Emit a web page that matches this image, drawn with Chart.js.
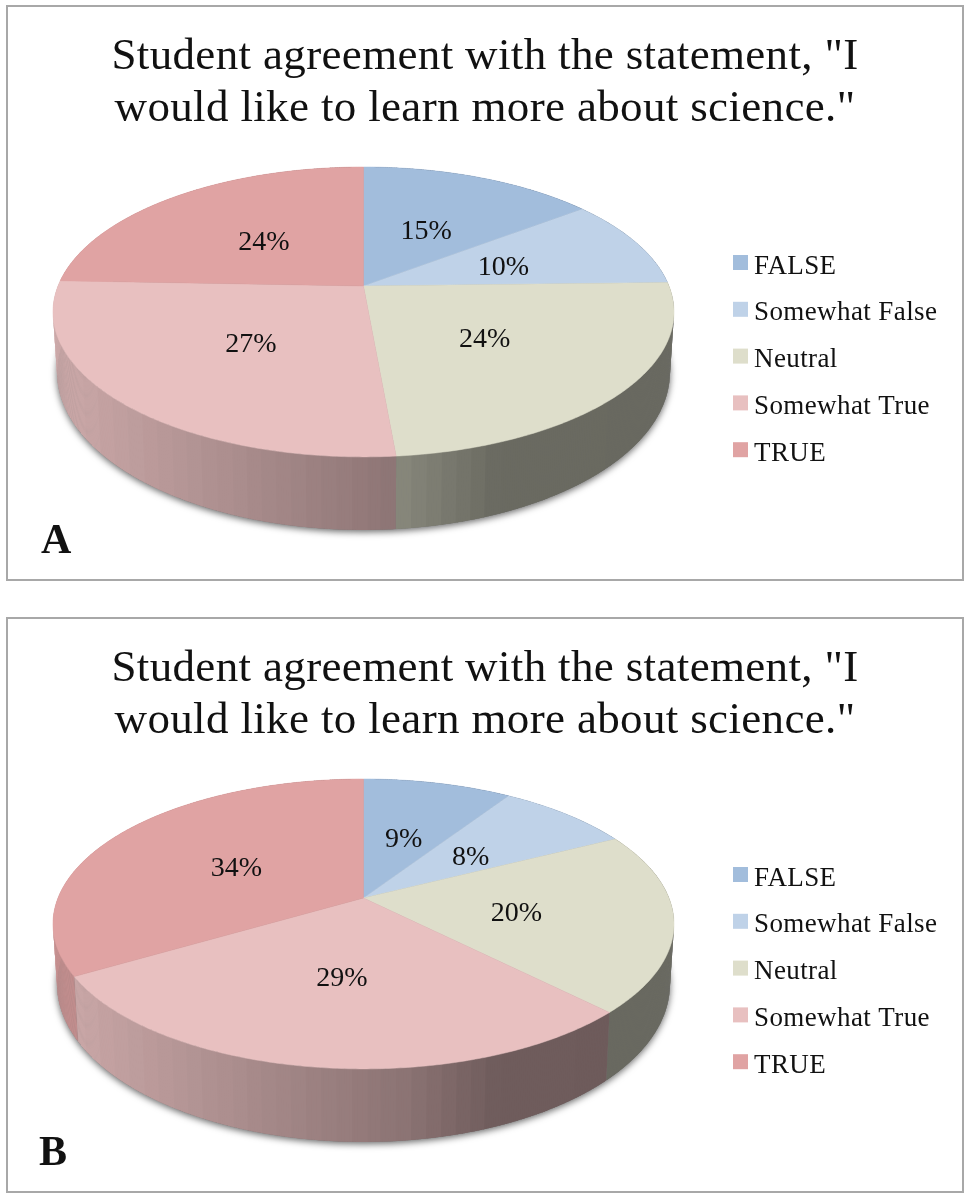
<!DOCTYPE html>
<html>
<head>
<meta charset="utf-8">
<script src="https://cdn.jsdelivr.net/npm/chart.js@4"></script>
<style>
  html, body { margin: 0; background: #fff; }
  .panel { position: absolute; left: 6px; width: 954px; height: 572px; border: 2px solid #a8a8a8; }
  #panelA { top: 5px; }
  #panelB { top: 617px; }
  canvas { display: block; }
</style>
</head>
<body>
<div class="panel" id="panelA"><canvas id="chartA" width="954" height="572"></canvas></div>
<div class="panel" id="panelB"><canvas id="chartB" width="954" height="572"></canvas></div>
<script>
const categories = ['FALSE', 'Somewhat False', 'Neutral', 'Somewhat True', 'TRUE'];
const valuesA = [14.6, 10.0, 24.0, 27.0, 24.4];
const valuesB = [9.2, 8.3, 20.1, 28.9, 33.5];
const colors = ['#a2bddc', '#bfd2e8', '#dedecb', '#e8c0c0', '#e0a3a3'];
const titleLines = ['Student agreement with the statement, "I', 'would like to learn more about science."'];
const FONT = '"Liberation Serif", serif';

// tilted disc: k is the perspective term, so the hub sits above the middle of the ellipse
const disc = { cx: 355.5, cy: 279, a: 305.5, b: 140.3, k: 0.179, midY: 305, bottomMidY: 365, bottomStretch: 1.09, bottomScale: 0.987 };

function project(theta, r) {
  const u = r * Math.sin(theta), v = r * Math.cos(theta);
  const d = 1 + disc.k * v;
  return { x: disc.cx + disc.a * u / d, y: disc.cy - disc.b * v / d };
}

// lower rim of the wall is a slightly narrower, slightly taller ellipse
function projectBottom(theta) {
  const p = project(theta, 1);
  return {
    x: disc.cx + (p.x - disc.cx) * disc.bottomScale,
    y: disc.bottomMidY + (p.y - disc.midY) * disc.bottomStretch
  };
}

// wall gets darker going left to right
function wallShade(x) {
  const stops = [[52, 0.87], [392, 0.6], [482, 0.48], [700, 0.47]];
  if (x <= stops[0][0]) return stops[0][1];
  for (let i = 1; i < stops.length; i++) {
    if (x <= stops[i][0]) {
      const t = (x - stops[i - 1][0]) / (stops[i][0] - stops[i - 1][0]);
      return stops[i - 1][1] + t * (stops[i][1] - stops[i - 1][1]);
    }
  }
  return 0.47;
}

function shaded(hex, s) {
  const n = parseInt(hex.slice(1), 16);
  return 'rgb(' + [(n >> 16) & 255, (n >> 8) & 255, n & 255].map(c => Math.round(c * s)).join(',') + ')';
}

function drawShadow(ctx) {
  ctx.save();
  ctx.shadowColor = 'rgba(0,0,0,0.6)';
  ctx.shadowBlur = 7;
  ctx.shadowOffsetY = 2;
  ctx.fillStyle = '#777';
  ctx.beginPath();
  for (let deg = 0; deg < 360; deg += 2) {
    const p = projectBottom(deg * Math.PI / 180);
    ctx.lineTo(p.x, p.y);
  }
  ctx.closePath();
  ctx.fill();
  ctx.restore();
}

function drawWall(ctx, arc, color) {
  const start = arc.startAngle + Math.PI / 2, end = arc.endAngle + Math.PI / 2;
  const step = 0.4 * Math.PI / 180;
  for (let t = start; t < end; t += step) {
    const t2 = Math.min(t + step * 1.6, end);
    const a = project(t, 1), b = project(t2, 1), c = projectBottom(t2), d = projectBottom(t);
    const band = Math.floor(a.x / 15) * 15;
    ctx.fillStyle = shaded(color, wallShade(band));
    ctx.beginPath();
    ctx.moveTo(a.x, a.y);
    ctx.lineTo(b.x, b.y);
    ctx.lineTo(c.x, c.y);
    ctx.lineTo(d.x, d.y);
    ctx.closePath();
    ctx.fill();
  }
}

function drawFace(ctx, arc, color) {
  const start = arc.startAngle + Math.PI / 2, end = arc.endAngle + Math.PI / 2;
  const hub = project(0, 0);
  ctx.fillStyle = color;
  ctx.strokeStyle = color;
  ctx.lineWidth = 0.5;
  ctx.beginPath();
  ctx.moveTo(hub.x, hub.y);
  for (let t = start; t < end; t += 0.01) {
    const p = project(t, 1);
    ctx.lineTo(p.x, p.y);
  }
  const last = project(end, 1);
  ctx.lineTo(last.x, last.y);
  ctx.closePath();
  ctx.fill();
  ctx.stroke();
}

const tiltedPie = {
  id: 'tiltedPie',
  // title font is narrower than the original's, so open it up a bit
  beforeDraw(chart) {
    chart.ctx.letterSpacing = '0.35px';
  },
  // replaces the flat arc drawing, angles still come from the library's arc elements
  beforeDatasetDraw(chart, args) {
    const ctx = chart.ctx;
    const arcs = chart.getDatasetMeta(args.index).data;
    const cols = chart.data.datasets[args.index].backgroundColor;
    ctx.save();
    drawShadow(ctx);
    arcs.forEach((arc, i) => drawWall(ctx, arc, cols[i]));
    arcs.forEach((arc, i) => drawFace(ctx, arc, cols[i]));
    ctx.restore();
    return false;
  },
  afterDatasetsDraw(chart, args, opts) {
    const ctx = chart.ctx;
    const data = chart.data.datasets[0].data;
    const arcs = chart.getDatasetMeta(0).data;
    ctx.save();
    ctx.letterSpacing = '0px';
    ctx.fillStyle = '#111';
    ctx.textAlign = 'center';
    ctx.textBaseline = 'middle';
    ctx.font = '28px ' + FONT;
    arcs.forEach((arc, i) => {
      const mid = (arc.startAngle + arc.endAngle) / 2 + Math.PI / 2;
      const p = project(mid, 0.5);
      ctx.fillText(Math.round(data[i]) + '%', p.x, p.y + 4);
    });
    // legend
    ctx.textAlign = 'left';
    ctx.textBaseline = 'alphabetic';
    ctx.font = '27px ' + FONT;
    ctx.letterSpacing = '0.4px';
    chart.data.labels.forEach((label, i) => {
      const y = 248 + i * 46.8;
      ctx.fillStyle = colors[i];
      ctx.fillRect(725, y, 15, 15);
      ctx.fillStyle = '#111';
      ctx.fillText(label, 746, y + 18.5);
    });
    // panel letter
    ctx.letterSpacing = '0px';
    ctx.font = 'bold 42px ' + FONT;
    ctx.fillText(opts.letter, opts.letterX, 546);
    ctx.restore();
  }
};

function makeChart(id, values, letter, letterX) {
  return new Chart(document.getElementById(id), {
    type: 'pie',
    data: {
      labels: categories,
      datasets: [{ data: values, backgroundColor: colors, borderWidth: 0 }]
    },
    options: {
      responsive: false,
      animation: false,
      plugins: {
        legend: { display: false },
        tooltip: { enabled: false },
        tiltedPie: { letter: letter, letterX: letterX },
        title: {
          display: true,
          text: titleLines,
          color: '#111',
          padding: { top: 25, bottom: 0 },
          font: { family: FONT, size: 45, weight: 'normal', lineHeight: 1.14 }
        }
      }
    },
    plugins: [tiltedPie]
  });
}

makeChart('chartA', valuesA, 'A', 33);
makeChart('chartB', valuesB, 'B', 31);
</script>
</body>
</html>
